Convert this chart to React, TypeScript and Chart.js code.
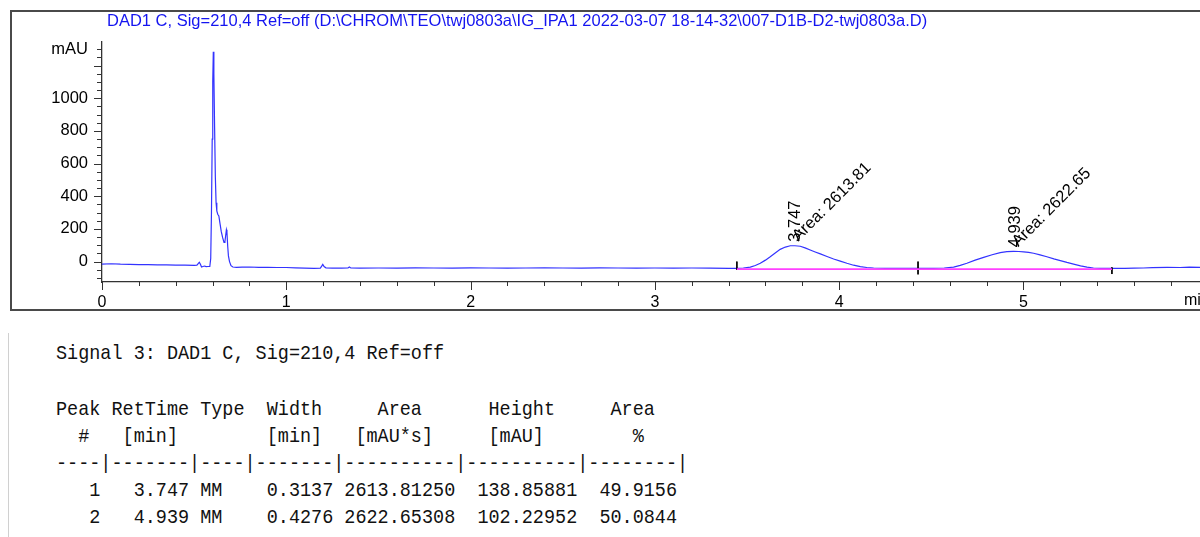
import React, { useEffect, useRef } from "react";
import { Chart, registerables } from "chart.js";
Chart.register(...registerables);

const titleText =
  "DAD1 C, Sig=210,4 Ref=off (D:\\CHROM\\TEO\\twj0803a\\IG_IPA1 2022-03-07 18-14-32\\007-D1B-D2-twj0803a.D)";

const times = [0, 0.05, 0.1, 0.15, 0.2, 0.25, 0.3, 0.35, 0.4, 0.45, 0.5, 0.515, 0.522, 0.528, 0.534, 0.54, 0.548, 0.556, 0.565, 0.575, 0.585, 0.59, 0.594, 0.598, 0.601, 0.604, 0.607, 0.611, 0.615, 0.619, 0.623, 0.628, 0.634, 0.64, 0.647, 0.655, 0.662, 0.667, 0.671, 0.675, 0.678, 0.682, 0.686, 0.692, 0.7, 0.71, 0.73, 0.76, 0.8, 0.85, 0.9, 0.95, 1.0, 1.05, 1.1, 1.15, 1.185, 1.192, 1.198, 1.205, 1.215, 1.25, 1.3, 1.335, 1.342, 1.35, 1.4, 1.5, 1.6, 1.7, 1.8, 1.9, 2.0, 2.1, 2.2, 2.3, 2.4, 2.5, 2.6, 2.7, 2.8, 2.9, 3.0, 3.1, 3.2, 3.3, 3.4, 3.445, 3.48, 3.518, 3.545, 3.572, 3.6, 3.626, 3.653, 3.68, 3.708, 3.735, 3.76, 3.789, 3.815, 3.843, 3.87, 3.898, 3.934, 3.97, 4.006, 4.042, 4.078, 4.115, 4.15, 4.187, 4.25, 4.3, 4.35, 4.428, 4.512, 4.57, 4.621, 4.657, 4.693, 4.738, 4.784, 4.83, 4.874, 4.91, 4.946, 4.975, 5.001, 5.028, 5.055, 5.09, 5.127, 5.165, 5.2, 5.236, 5.272, 5.31, 5.345, 5.38, 5.417, 5.48, 5.55, 5.6, 5.65, 5.7, 5.78, 5.85, 5.9, 5.958];

const signal = [-15, -13, -16, -17, -18, -18, -20, -20, -22, -22, -23, -22, -12, -4, -16, -33, -30, -27, -31, -30, -30, 20, 300, 750, 1100, 1285, 1150, 820, 520, 360, 310, 290, 280, 235, 185, 145, 118, 122, 160, 195, 180, 95, 35, 0, -25, -33, -35, -34, -33, -35, -35, -36, -36, -38, -40, -41, -40, -28, -17, -30, -38, -40, -40, -39, -33, -39, -40, -39, -40, -38, -39, -40, -38, -39, -40, -39, -38, -39, -40, -38, -39, -40, -39, -40, -39, -40, -41, -41, -39, -34, -24, -10, 9, 30, 53, 75, 89, 97, 97, 94, 84, 71, 59, 47, 31, 16, 3, -10, -22, -31, -36, -39, -41, -41, -41, -41, -41, -39, -34, -23, -10, 9, 26, 42, 55, 61, 63, 62, 59, 56, 51, 41, 30, 17, 6, -5, -15, -26, -34, -39, -41, -41, -41, -40, -39, -37, -35, -36, -34, -35];

const peakTimes = [3.747, 4.939];
const peakApex = [97, 63];
const peakRtLabels = ["3.747", "4.939"];
const peakAreaLabels = ["Area: 2613.81", "Area: 2622.65"];

const baselineTimes = [3.445, 4.428, 5.48];
const baselineValues = [-46, -46, -46];

const markerTimes = [3.445, 4.428, 5.48];
const markerTop = [0, 0, -35];
const markerBottom = [-51, -78, -76];

const yMin = -124.8;
const yMax = 1344;
const xMin = 0;
const xMax = 5.958;
const yLabelValues = [0, 200, 400, 600, 800, 1000];
const yMajorValues = [0, 200, 400, 600, 800, 1000, 1200];
const yTickStart = -100;
const yTickEnd = 1300;
const yTickStep = 50;
const yUnitValue = 1300;
const yUnitLabel = "mAU";
const xLabelValues = [0, 1, 2, 3, 4, 5];
const xTickStep = 0.2;
const xUnitLabel = "min";

const tableTitle = "Signal 3: DAD1 C, Sig=210,4 Ref=off";
const tableHeader1 = "Peak RetTime Type  Width     Area      Height     Area";
const tableHeader2 = "  #   [min]        [min]   [mAU*s]     [mAU]        %";
const tableRule = "----|-------|----|-------|----------|----------|--------|";
const tableRows = [
  "   1   3.747 MM    0.3137 2613.81250  138.85881  49.9156",
  "   2   4.939 MM    0.4276 2622.65308  102.22952  50.0844",
];

const FONT = "'Liberation Sans', Arial, sans-serif";

function buildTicks(start: number, end: number, step: number) {
  const out: number[] = [];
  const n = Math.round((end - start) / step);
  for (let i = 0; i <= n; i++) out.push(Math.round((start + i * step) * 1000) / 1000);
  return out;
}

export default function App() {
  const ref = useRef<HTMLCanvasElement | null>(null);

  useEffect(() => {
    const canvas = ref.current;
    if (!canvas) return;
    const yTicks = buildTicks(yTickStart, yTickEnd, yTickStep);
    const xTicks = buildTicks(0, 5.8, xTickStep);

    const framePlugin = {
      id: "frame",
      beforeDraw(chart: any) {
        const ctx = chart.ctx;
        ctx.save();
        ctx.fillStyle = "#ffffff";
        ctx.fillRect(0, 0, chart.width, chart.height);
        ctx.strokeStyle = "#4a4a4a";
        ctx.lineWidth = 2;
        ctx.strokeRect(11, 11, 1200, 299);
        ctx.restore();
      },
      afterDraw(chart: any) {
        const ctx = chart.ctx;
        const xs = chart.scales.x;
        const ys = chart.scales.y;
        const left = chart.chartArea.left;
        const bottom = chart.chartArea.bottom;
        ctx.save();
        ctx.strokeStyle = "#333";
        ctx.lineWidth = 1;
        ctx.beginPath();
        for (const v of yTicks) {
          const py = Math.round(ys.getPixelForValue(v)) + 0.5;
          const len = yMajorValues.includes(v) ? 8 : 5;
          ctx.moveTo(left - len, py);
          ctx.lineTo(left, py);
        }
        for (const v of xTicks) {
          const px = Math.round(xs.getPixelForValue(v)) + 0.5;
          const len = xLabelValues.includes(v) ? 8 : 4;
          ctx.moveTo(px, bottom);
          ctx.lineTo(px, bottom + len);
        }
        ctx.stroke();

        // title
        ctx.fillStyle = "#1414f0";
        ctx.font = `16.5px ${FONT}`;
        ctx.textBaseline = "middle";
        ctx.textAlign = "left";
        ctx.fillText(titleText, 107, 21);

        // x unit
        ctx.fillStyle = "#000";
        ctx.font = `16px ${FONT}`;
        ctx.fillText(xUnitLabel, 1184, 301);

        // peak annotations
        ctx.font = `16.5px ${FONT}`;
        ctx.textBaseline = "alphabetic";
        for (let i = 0; i < peakTimes.length; i++) {
          const px = xs.getPixelForValue(peakTimes[i]);
          const py = ys.getPixelForValue(peakApex[i]);
          ctx.save();
          ctx.translate(px + 7.5, py - 4);
          ctx.rotate(-Math.PI / 2);
          ctx.fillText(peakRtLabels[i], 0, 0);
          ctx.restore();
          ctx.save();
          ctx.translate(px + 6, py - 4);
          ctx.rotate(-Math.PI / 4);
          ctx.fillText(peakAreaLabels[i], 0, 0);
          ctx.restore();
        }
        ctx.restore();
      },
    };

    const datasets: any[] = [
      {
        data: baselineTimes.map((t, i) => ({ x: t, y: baselineValues[i] })),
        showLine: true,
        borderColor: "#ff40ff",
        borderWidth: 1.6,
        pointRadius: 0,
      },
      ...markerTimes.map((t, i) => ({
        data: [
          { x: t, y: markerTop[i] },
          { x: t, y: markerBottom[i] },
        ],
        showLine: true,
        borderColor: "#000",
        borderWidth: 1,
        pointRadius: 0,
        clip: false,
      })),
      {
        data: times.map((t, i) => ({ x: t, y: signal[i] })),
        showLine: true,
        borderColor: "#3333ff",
        borderWidth: 1.2,
        pointRadius: 0,
        tension: 0,
      },
    ];

    const chart = new Chart(canvas, {
      type: "scatter",
      data: { datasets },
      options: {
        responsive: false,
        maintainAspectRatio: false,
        animation: false,
        layout: { padding: { top: 42, left: 0, right: 0, bottom: 0 } },
        plugins: {
          legend: { display: false },
          tooltip: { enabled: false },
          title: { display: false },
        },
        scales: {
          x: {
            type: "linear",
            min: xMin,
            max: xMax,
            afterFit(s: any) {
              s.height = 38;
            },
            afterBuildTicks(s: any) {
              s.ticks = xTicks.map((v) => ({ value: v }));
            },
            ticks: {
              autoSkip: false,
              maxRotation: 0,
              padding: 11,
              color: "#000",
              font: { family: FONT, size: 16 },
              callback: (v: any) => (xLabelValues.includes(Number(v)) ? String(v) : ""),
            },
            grid: { display: true, drawOnChartArea: false, drawTicks: false },
            border: { display: true, color: "#333", width: 1.3 },
          },
          y: {
            type: "linear",
            min: yMin,
            max: yMax,
            afterFit(s: any) {
              s.width = 102;
            },
            afterBuildTicks(s: any) {
              s.ticks = yTicks.map((v) => ({ value: v }));
            },
            ticks: {
              autoSkip: false,
              padding: 14,
              color: "#000",
              font: { family: FONT, size: 16.5 },
              callback: (v: any) => {
                const n = Number(v);
                if (n === yUnitValue) return yUnitLabel;
                return yLabelValues.includes(n) ? String(n) : "";
              },
            },
            grid: { display: true, drawOnChartArea: false, drawTicks: false },
            border: { display: true, color: "#333", width: 1.3 },
          },
        },
      } as any,
      plugins: [framePlugin],
    });
    return () => chart.destroy();
  }, []);

  const lineStyle = (center: number): React.CSSProperties => ({
    position: "absolute",
    left: 56,
    top: center - 13.5,
    height: 27,
    lineHeight: "27px",
    margin: 0,
    fontFamily: "'Liberation Mono', 'DejaVu Sans Mono', monospace",
    fontSize: "21px",
    whiteSpace: "pre",
    transform: "scaleX(0.88)",
    transformOrigin: "left center",
    color: "#111",
  });

  return (
    <div
      style={{
        position: "absolute",
        left: 0,
        top: 0,
        width: 1200,
        height: 537,
        background: "#fff",
        overflow: "hidden",
      }}
    >
      <canvas ref={ref} width={1200} height={320} style={{ display: "block", width: 1200, height: 320 }} />
      <div
        style={{
          position: "absolute",
          left: 8,
          top: 333,
          bottom: 0,
          width: 0,
          borderLeft: "1px solid #d0d0d0",
        }}
      />
      <div style={lineStyle(353.5)}>{tableTitle}</div>
      <div style={lineStyle(409)}>{tableHeader1}</div>
      <div style={lineStyle(436)}>{tableHeader2}</div>
      <div style={lineStyle(463)}>{tableRule}</div>
      <div style={lineStyle(490.5)}>{tableRows[0]}</div>
      <div style={lineStyle(517.5)}>{tableRows[1]}</div>
    </div>
  );
}
